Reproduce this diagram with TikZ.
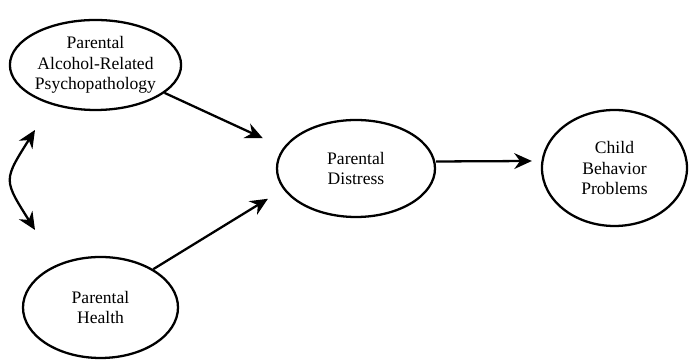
\documentclass[tikz,border=0pt]{standalone}
\usepackage{fontspec}
\setmainfont{Liberation Serif}
\usetikzlibrary{shapes.geometric, arrows.meta, decorations.markings, positioning}

\begin{document}
\begin{tikzpicture}[
		factor/.style={draw, ellipse, line width=1.3pt, inner sep=0pt, align=center,
			font=\fontsize{10}{11.5}\selectfont},
		link/.style={line width=1.3pt, arrows=-{Stealth[length=10pt, width=9pt]}},
		twoway/.style={line width=1.3pt, shorten <=2pt, shorten >=2pt,
			postaction={decorate, decoration={markings,
				mark=at position 0 with {\arrowreversed{Stealth[length=10pt, width=9pt]}},
				mark=at position 1 with {\arrow{Stealth[length=10pt, width=9pt]}}}}}
	]
	\useasboundingbox (0,0) rectangle (13.88,7.2);
	\node[factor, minimum width=2.9cm, minimum height=1.8cm] (alc) at (1.91,5.9) {Parental\\Alcohol-Related\\Psychopathology};
	\node[factor, minimum width=3.1cm, minimum height=2.02cm] (health) at (2.01,1.05) {Parental\\Health};
	\node[factor, minimum width=3.16cm, minimum height=1.94cm] (dist) at (7.12,3.83) {Parental\\Distress};
	\node[factor, minimum width=2.9cm, minimum height=2.32cm] (child) at (12.29,3.84) {Child\\Behavior\\Problems};
	\coordinate (ctop) at (0.7,4.6);
	\coordinate (cbot) at (0.7,2.6);
	\draw[link, shorten >=0.45cm] (alc.-22) -- (dist.164);
	\draw[link, shorten >=0.36cm] (health.36) -- (dist.196);
	\draw[link] ([yshift=0.14cm]dist.east) -- ([xshift=-0.18cm, yshift=0.14cm]child.west);
	\draw[twoway] (ctop) to[out=238, in=122, looseness=1.6] (cbot);
\end{tikzpicture}
\end{document}
